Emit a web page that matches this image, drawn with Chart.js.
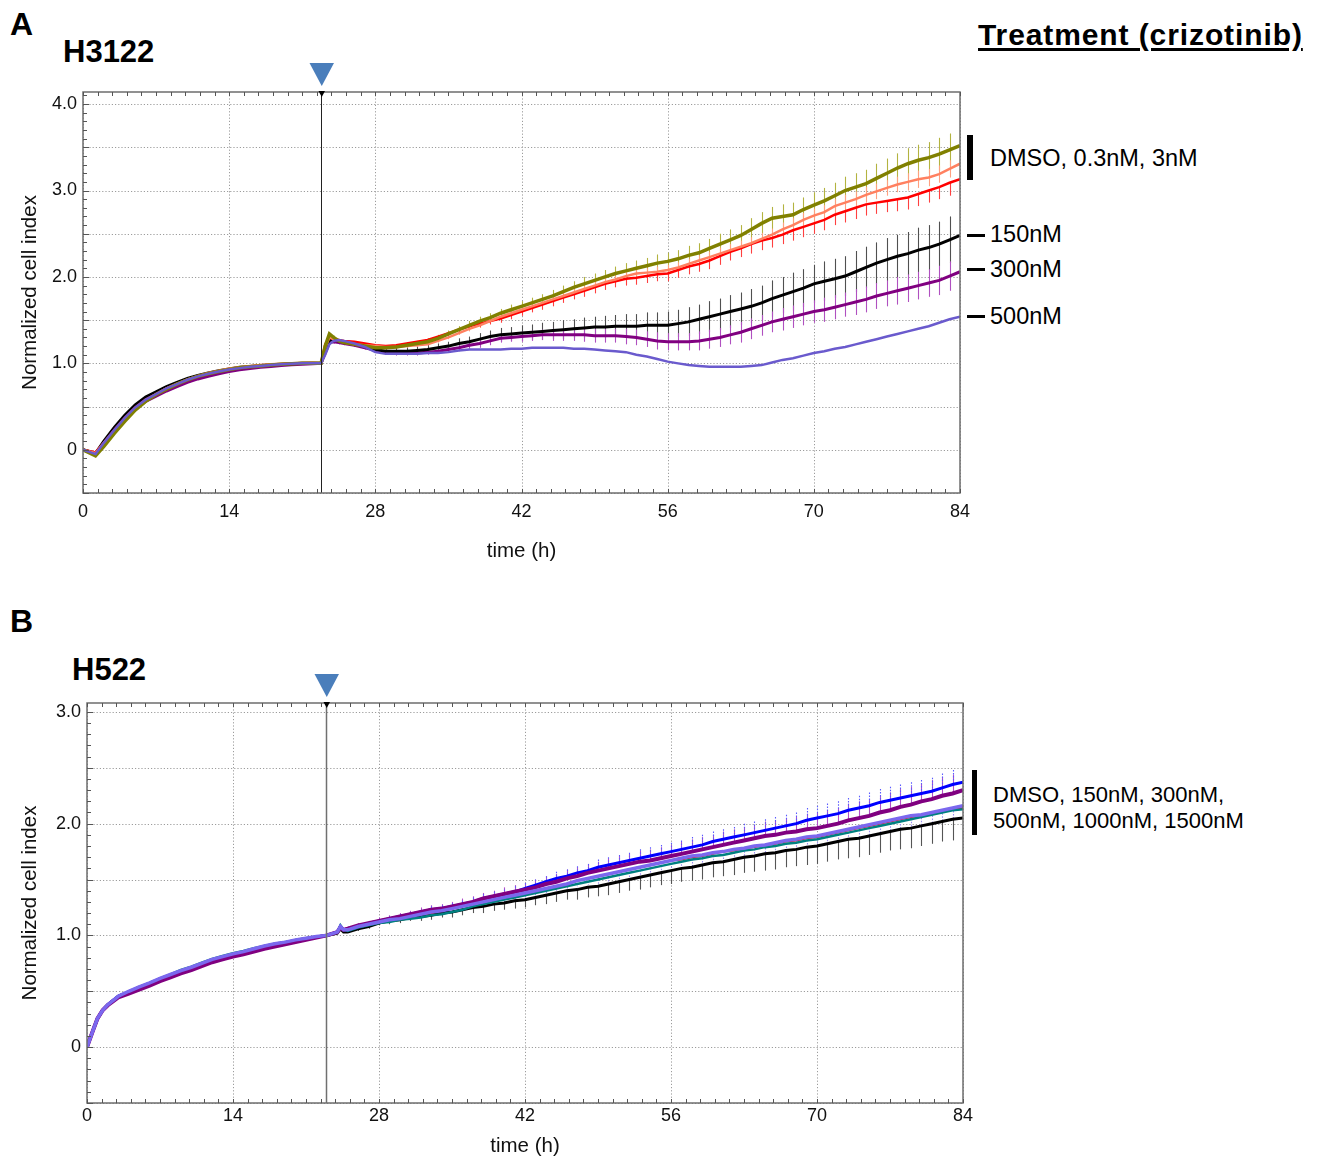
<!DOCTYPE html>
<html><head><meta charset="utf-8">
<script src="https://cdn.jsdelivr.net/npm/chart.js@4/dist/chart.umd.min.js"></script>
<style>
html,body{margin:0;padding:0;background:#fff;width:1320px;height:1158px;overflow:hidden;font-family:Arial,"Liberation Sans",sans-serif;color:#000}
.t{position:absolute;white-space:nowrap;line-height:1}
canvas{position:absolute;left:0}
.bar{position:absolute;background:#000}
</style></head><body>
<div class="t" style="left:10px;top:8px;font-size:32px;font-weight:bold">A</div>
<div class="t" style="left:63px;top:36px;font-size:31px;font-weight:bold">H3122</div>
<div class="t" style="left:978px;top:20px;font-size:30px;font-weight:bold;letter-spacing:0.9px;text-decoration:underline;text-decoration-thickness:2.5px;text-underline-offset:3px">Treatment (crizotinib)</div>
<div class="bar" style="left:967px;top:135px;width:6px;height:45px"></div>
<div class="t" style="left:990px;top:147px;font-size:23.5px">DMSO, 0.3nM, 3nM</div>
<div class="bar" style="left:967px;top:234px;width:18px;height:2.5px"></div>
<div class="t" style="left:990px;top:223px;font-size:23.5px">150nM</div>
<div class="bar" style="left:967px;top:268px;width:18px;height:2.5px"></div>
<div class="t" style="left:990px;top:258px;font-size:23.5px">300nM</div>
<div class="bar" style="left:967px;top:315px;width:18px;height:2.5px"></div>
<div class="t" style="left:990px;top:305px;font-size:23.5px">500nM</div>

<div class="t" style="left:10px;top:605px;font-size:32px;font-weight:bold">B</div>
<div class="t" style="left:72px;top:654px;font-size:31px;font-weight:bold">H522</div>
<div class="bar" style="left:972px;top:770px;width:5px;height:65px"></div>
<div class="t" style="left:993px;top:784px;font-size:22px">DMSO, 150nM, 300nM,</div>
<div class="t" style="left:993px;top:810px;font-size:22px">500nM, 1000nM, 1500nM</div>

<canvas id="cA" width="1000" height="580" style="top:0;width:1000px;height:580px"></canvas>
<canvas id="cB" width="1000" height="560" style="top:600px;width:1000px;height:560px"></canvas>
<div id="dbg" class="t" style="left:1000px;top:1100px;font-size:12px;color:red"></div>
<script>
// ---------------- DATA: panel A (H3122) ----------------
const timesA = [0,1.2,2,3,4,5,6,7,8,9,10,11,12,13,14,15,16,17,18,19,20,21,22,22.8,23.2,23.6,24,24.5,25,26,27,28,29,30,31,32,33,34,35,36,37,38,39,40,41,42,43,44,45,46,47,48,49,50,51,52,53,54,55,56,57,58,59,60,61,62,63,64,65,66,67,68,69,70,71,72,73,74,75,76,77,78,79,80,81,82,83,84];
const treatmentTimeA = 22.8;
const xTicks = [0,14,28,42,56,70,84];
const xTickLabels = ['0','14','28','42','56','70','84'];
const yTicksA = [-0.5,0,0.5,1,1.5,2,2.5,3,3.5,4];
const yTickLabelsA = ['','0','','1.0','','2.0','','3.0','','4.0'];
const yMaxA = 4.14;

const dmsoA = [0,-0.07,0.04,0.19,0.33,0.46,0.56,0.64,0.70,0.76,0.81,0.85,0.88,0.905,0.93,0.95,0.96,0.97,0.98,0.99,0.995,1.0,1.0,1.0,
 1.20,1.34,1.30,1.26,
 1.24,1.22,1.20,1.18,1.18,1.19,1.21,1.23,1.25,1.29,
 1.34,1.39,1.44,1.49,1.53,1.58,1.62,1.66,1.70,1.74,
 1.78,1.83,1.88,1.92,1.96,2.00,2.04,2.07,2.10,2.13,
 2.16,2.18,2.21,2.25,2.28,2.33,2.38,2.43,2.48,2.55,
 2.62,2.68,2.70,2.72,2.78,2.83,2.88,2.94,3.00,3.04,
 3.08,3.14,3.20,3.26,3.31,3.35,3.38,3.42,3.47,3.52];
const nM03A = [0,-0.04,0.08,0.22,0.36,0.48,0.57,0.645,0.71,0.765,0.815,0.855,0.89,0.915,0.94,0.955,0.97,0.98,0.99,0.995,1.0,1.005,1.005,1.0,
 1.18,1.30,1.28,1.26,
 1.24,1.22,1.21,1.20,1.19,1.19,1.20,1.21,1.22,1.26,
 1.30,1.35,1.40,1.44,1.49,1.54,1.58,1.62,1.66,1.70,
 1.74,1.78,1.82,1.86,1.90,1.94,1.97,2.01,2.04,2.05,
 2.06,2.08,2.11,2.15,2.19,2.23,2.27,2.31,2.35,2.39,
 2.44,2.49,2.55,2.60,2.66,2.71,2.75,2.82,2.86,2.90,
 2.95,2.99,3.03,3.07,3.10,3.13,3.15,3.19,3.25,3.31];
const nM3A = [0,-0.03,0.08,0.23,0.37,0.49,0.58,0.645,0.71,0.76,0.81,0.85,0.885,0.91,0.935,0.95,0.965,0.975,0.985,0.99,1.0,1.0,1.005,1.0,
 1.22,1.30,1.28,1.27,
 1.26,1.25,1.23,1.21,1.20,1.21,1.23,1.25,1.27,1.31,
 1.35,1.39,1.43,1.46,1.49,1.52,1.56,1.60,1.64,1.68,
 1.72,1.76,1.80,1.84,1.88,1.92,1.95,1.98,1.99,2.01,
 2.03,2.04,2.08,2.12,2.15,2.19,2.24,2.29,2.33,2.38,
 2.42,2.45,2.49,2.54,2.58,2.62,2.66,2.72,2.76,2.80,
 2.84,2.86,2.88,2.90,2.92,2.96,3.00,3.04,3.09,3.13];
const nM150A = [0,-0.04,0.10,0.26,0.40,0.52,0.61,0.67,0.73,0.78,0.825,0.86,0.89,0.915,0.935,0.955,0.965,0.975,0.985,0.99,0.995,1.0,1.0,1.0,
 1.15,1.27,1.27,1.26,
 1.25,1.23,1.20,1.16,1.14,1.14,1.14,1.15,1.16,1.18,
 1.20,1.23,1.25,1.28,1.31,1.33,1.34,1.35,1.36,1.37,
 1.38,1.39,1.40,1.41,1.42,1.42,1.43,1.43,1.43,1.44,
 1.44,1.44,1.46,1.48,1.51,1.54,1.57,1.60,1.63,1.66,
 1.70,1.75,1.79,1.83,1.87,1.92,1.95,1.98,2.01,2.06,
 2.11,2.16,2.20,2.24,2.27,2.31,2.34,2.38,2.43,2.48];
const nM300A = [0,-0.05,0.07,0.22,0.35,0.47,0.56,0.62,0.68,0.73,0.78,0.82,0.85,0.88,0.905,0.925,0.94,0.955,0.965,0.975,0.985,0.99,0.995,1.0,
 1.12,1.24,1.25,1.24,
 1.23,1.21,1.18,1.15,1.13,1.12,1.12,1.12,1.13,1.14,
 1.16,1.18,1.21,1.23,1.26,1.29,1.30,1.31,1.32,1.33,
 1.33,1.33,1.33,1.33,1.32,1.32,1.32,1.31,1.30,1.28,
 1.26,1.25,1.25,1.25,1.26,1.28,1.30,1.33,1.36,1.40,
 1.44,1.48,1.51,1.54,1.57,1.60,1.62,1.65,1.68,1.71,
 1.74,1.78,1.81,1.84,1.87,1.90,1.93,1.96,2.01,2.06];
const nM500A = [0,-0.05,0.08,0.23,0.37,0.49,0.58,0.645,0.71,0.76,0.81,0.85,0.88,0.905,0.93,0.945,0.96,0.97,0.98,0.99,0.995,1.0,1.0,1.0,
 1.10,1.22,1.26,1.27,
 1.26,1.23,1.19,1.13,1.11,1.11,1.11,1.11,1.12,1.12,
 1.13,1.15,1.16,1.16,1.16,1.16,1.17,1.17,1.18,1.18,
 1.18,1.18,1.17,1.17,1.16,1.15,1.14,1.13,1.10,1.08,
 1.05,1.02,1.00,0.98,0.97,0.96,0.96,0.96,0.96,0.97,
 0.98,1.01,1.04,1.06,1.09,1.12,1.14,1.17,1.19,1.22,
 1.25,1.28,1.31,1.34,1.37,1.40,1.43,1.47,1.51,1.54];

const sdDmsoA = [0.01,0.01,0.01,0.01,0.01,0.01, 0.01,0.01,0.01,0.01,0.01,0.01, 0.01,0.01,0.01,0.01,0.01,0.01, 0.01,0.01,0.01,0.01,0.01,0.01,
 0.02,0.02,0.02,0.02,
 0.02,0.02,0.02,0.03,0.03,0.03,0.03,0.03,0.04,0.04,
 0.04,0.04,0.05,0.05,0.05,0.05,0.06,0.06,0.06,0.06,
 0.07,0.07,0.07,0.08,0.08,0.08,0.08,0.09,0.09,0.09,
 0.10,0.10,0.10,0.11,0.11,0.11,0.12,0.12,0.12,0.13,
 0.13,0.13,0.14,0.14,0.14,0.15,0.15,0.15,0.16,0.16,
 0.16,0.17,0.17,0.17,0.18,0.18,0.18,0.19,0.19,0.19];
const sd03A = [0.01,0.01,0.01,0.01,0.01,0.01, 0.01,0.01,0.01,0.01,0.01,0.01, 0.01,0.01,0.01,0.01,0.01,0.01, 0.01,0.01,0.01,0.01,0.01,0.01,
 0.02,0.02,0.02,0.02,
 0.02,0.02,0.02,0.02,0.02,0.02,0.02,0.02,0.02,0.02,
 0.02,0.02,0.03,0.03,0.03,0.03,0.03,0.03,0.04,0.04,
 0.04,0.04,0.04,0.04,0.05,0.05,0.05,0.05,0.05,0.05,
 0.06,0.06,0.06,0.06,0.06,0.06,0.07,0.07,0.07,0.07,
 0.07,0.07,0.08,0.08,0.08,0.08,0.08,0.08,0.09,0.09,
 0.09,0.09,0.09,0.09,0.10,0.10,0.10,0.10,0.10,0.10];
const sd3A = [0.01,0.01,0.01,0.01,0.01,0.01, 0.01,0.01,0.01,0.01,0.01,0.01, 0.01,0.01,0.01,0.01,0.01,0.01, 0.01,0.01,0.01,0.01,0.01,0.01,
 0.02,0.02,0.02,0.02,
 0.02,0.02,0.02,0.02,0.02,0.02,0.03,0.03,0.03,0.03,
 0.03,0.04,0.04,0.04,0.04,0.05,0.05,0.05,0.05,0.06,
 0.06,0.06,0.06,0.07,0.07,0.07,0.07,0.08,0.08,0.08,
 0.08,0.09,0.09,0.09,0.09,0.10,0.10,0.10,0.10,0.11,
 0.11,0.11,0.11,0.12,0.12,0.12,0.12,0.12,0.13,0.13,
 0.13,0.13,0.13,0.14,0.14,0.14,0.14,0.14,0.15,0.15];
const sd150A = [0.01,0.01,0.01,0.01,0.01,0.01, 0.01,0.01,0.01,0.01,0.01,0.01, 0.01,0.01,0.01,0.01,0.01,0.01, 0.01,0.01,0.01,0.01,0.01,0.01,
 0.02,0.02,0.02,0.02,
 0.02,0.02,0.03,0.03,0.03,0.04,0.04,0.04,0.05,0.05,
 0.05,0.06,0.06,0.07,0.07,0.08,0.08,0.09,0.09,0.10,
 0.10,0.11,0.11,0.12,0.12,0.13,0.13,0.14,0.14,0.15,
 0.15,0.16,0.16,0.17,0.17,0.18,0.18,0.19,0.19,0.20,
 0.20,0.21,0.21,0.22,0.22,0.22,0.23,0.23,0.23,0.24,
 0.24,0.24,0.25,0.25,0.25,0.26,0.26,0.26,0.27,0.27];
const sd300A = [0.01,0.01,0.01,0.01,0.01,0.01, 0.01,0.01,0.01,0.01,0.01,0.01, 0.01,0.01,0.01,0.01,0.01,0.01, 0.01,0.01,0.01,0.01,0.01,0.01,
 0.02,0.02,0.02,0.02,
 0.02,0.02,0.02,0.02,0.03,0.03,0.03,0.03,0.03,0.03,
 0.04,0.04,0.04,0.05,0.05,0.05,0.05,0.06,0.06,0.06,
 0.07,0.07,0.07,0.08,0.08,0.08,0.08,0.09,0.09,0.09,
 0.10,0.10,0.10,0.10,0.11,0.11,0.11,0.11,0.12,0.12,
 0.12,0.12,0.13,0.13,0.13,0.13,0.14,0.14,0.14,0.15,
 0.15,0.15,0.15,0.16,0.16,0.16,0.16,0.17,0.17,0.17];

// ---------------- DATA: panel B (H522) ----------------
const timesB = [0,0.5,1,1.5,2,3,4,5,6,7,8,9,10,11,12,13,14,15,16,17,18,19,20,21,22,23,24,24.3,24.6,25,26,27,28,29,30,31,32,33,34,35,36,37,38,39,40,41,42,43,44,45,46,47,48,49,50,51,52,53,54,55,56,57,58,59,60,61,62,63,64,65,66,67,68,69,70,71,72,73,74,75,76,77,78,79,80,81,82,83,84];
const treatmentTimeB = 22.9;
const yTicksB = [-0.5,0,0.5,1,1.5,2,2.5,3];
const yTickLabelsB = ['','0','','1.0','','2.0','','3.0'];
const yMaxB = 3.08;

const blueB = [0,0.13,0.255,0.33,
 0.38,0.455,0.495,0.535,0.57,0.61,0.645,0.68,0.71,0.745,0.78,0.805,0.83,0.85,0.875,0.90,0.92,0.935,0.955,0.97,0.985,1.0,1.03,
 1.08,1.05,
 1.06,1.08,1.11,1.13,1.15,1.17,1.19,1.21,1.23,1.24,
 1.26,1.28,1.30,1.33,1.35,1.37,1.39,1.42,1.45,1.48,
 1.51,1.53,1.56,1.58,1.61,1.63,1.65,1.67,1.69,1.71,
 1.73,1.75,1.77,1.79,1.81,1.84,1.86,1.88,1.90,1.92,
 1.94,1.96,1.98,2.00,2.03,2.05,2.07,2.09,2.12,2.14,
 2.16,2.19,2.21,2.23,2.25,2.27,2.29,2.32,2.35,2.37];
const purpleB = [0,0.13,0.255,0.33,
 0.375,0.445,0.48,0.515,0.55,0.59,0.625,0.66,0.69,0.725,0.76,0.785,0.81,0.83,0.855,0.88,0.90,0.92,0.94,0.96,0.98,1.0,1.03,
 1.07,1.05,
 1.06,1.09,1.11,1.13,1.15,1.17,1.19,1.21,1.23,1.24,
 1.26,1.28,1.30,1.33,1.35,1.37,1.39,1.41,1.43,1.46,
 1.48,1.51,1.53,1.56,1.58,1.60,1.62,1.64,1.66,1.67,
 1.69,1.71,1.73,1.75,1.77,1.79,1.81,1.83,1.85,1.87,
 1.89,1.90,1.92,1.93,1.95,1.96,1.98,2.00,2.03,2.05,
 2.07,2.10,2.12,2.15,2.17,2.20,2.22,2.25,2.27,2.30];
const lavB = [0,0.13,0.255,0.33,
 0.38,0.455,0.50,0.54,0.575,0.615,0.65,0.685,0.715,0.75,0.785,0.81,0.835,0.855,0.88,0.905,0.925,0.94,0.96,0.975,0.99,1.0,1.03,
 1.08,1.05,
 1.05,1.08,1.10,1.12,1.14,1.15,1.17,1.19,1.21,1.22,
 1.24,1.26,1.28,1.30,1.32,1.34,1.36,1.38,1.40,1.42,
 1.44,1.46,1.49,1.51,1.53,1.55,1.57,1.59,1.61,1.63,
 1.65,1.67,1.69,1.71,1.72,1.74,1.75,1.77,1.78,1.80,
 1.81,1.83,1.85,1.86,1.88,1.89,1.91,1.93,1.95,1.97,
 1.99,2.01,2.03,2.05,2.07,2.08,2.10,2.12,2.14,2.16];
const redB = [0,0.13,0.255,0.33,
 0.38,0.455,0.495,0.535,0.57,0.61,0.645,0.68,0.71,0.745,0.78,0.805,0.83,0.85,0.875,0.90,0.92,0.935,0.955,0.97,0.985,1.0,1.03,
 1.08,1.05,
 1.05,1.08,1.10,1.12,1.14,1.15,1.17,1.19,1.20,1.22,
 1.24,1.26,1.28,1.30,1.32,1.34,1.36,1.38,1.40,1.42,
 1.44,1.46,1.49,1.51,1.53,1.55,1.57,1.59,1.61,1.63,
 1.65,1.67,1.68,1.70,1.71,1.73,1.75,1.76,1.78,1.79,
 1.81,1.82,1.84,1.85,1.87,1.88,1.90,1.92,1.94,1.96,
 1.98,2.00,2.02,2.04,2.06,2.07,2.09,2.11,2.13,2.14];
const tealB = [0,0.13,0.255,0.33,
 0.38,0.455,0.50,0.54,0.575,0.615,0.65,0.69,0.72,0.755,0.79,0.815,0.84,0.86,0.885,0.905,0.925,0.94,0.96,0.975,0.99,1.0,1.03,
 1.09,1.05,
 1.04,1.07,1.09,1.11,1.12,1.14,1.15,1.16,1.18,1.19,
 1.21,1.23,1.26,1.28,1.30,1.32,1.34,1.36,1.38,1.40,
 1.42,1.44,1.46,1.48,1.50,1.52,1.54,1.56,1.58,1.60,
 1.62,1.64,1.66,1.68,1.69,1.71,1.72,1.74,1.76,1.77,
 1.79,1.80,1.82,1.83,1.85,1.86,1.88,1.90,1.92,1.94,
 1.96,1.98,2.00,2.02,2.04,2.06,2.08,2.10,2.12,2.13];
const blackB = [0,0.13,0.255,0.33,
 0.38,0.455,0.495,0.535,0.57,0.61,0.645,0.68,0.71,0.745,0.78,0.805,0.83,0.85,0.875,0.90,0.92,0.935,0.955,0.97,0.985,1.0,1.02,
 1.06,1.03,
 1.03,1.06,1.08,1.11,1.13,1.14,1.16,1.17,1.18,1.20,
 1.21,1.23,1.25,1.26,1.28,1.29,1.31,1.32,1.34,1.36,
 1.38,1.40,1.41,1.43,1.44,1.46,1.48,1.50,1.52,1.54,
 1.56,1.58,1.60,1.61,1.63,1.65,1.66,1.68,1.70,1.71,
 1.73,1.74,1.76,1.77,1.79,1.80,1.82,1.84,1.86,1.87,
 1.89,1.91,1.93,1.95,1.96,1.98,2.00,2.02,2.04,2.05];

const sdPurpleB = [0,0,0,0,0,0,0,0,0,0,0,0,0,0,0,0,0,0,0,0,0,0,0,0,0,0,0,0,0,
 0.02,0.02,0.02,0.03,0.03,0.03,0.03,0.04,0.04,0.04,
 0.04,0.05,0.05,0.05,0.05,0.06,0.06,0.06,0.07,0.07,
 0.07,0.08,0.08,0.08,0.08,0.09,0.09,0.09,0.10,0.10,
 0.10,0.10,0.11,0.11,0.11,0.11,0.12,0.12,0.12,0.12,
 0.13,0.13,0.13,0.13,0.14,0.14,0.14,0.14,0.15,0.15,
 0.15,0.15,0.16,0.16,0.16,0.16,0.17,0.17,0.17,0.17];
const sdBlackB = [0,0,0,0,0,0,0,0,0,0,0,0,0,0,0,0,0,0,0,0,0,0,0,0,0,0,0,0,0,
 0.01,0.02,0.02,0.02,0.03,0.03,0.03,0.04,0.04,0.04,
 0.05,0.05,0.05,0.06,0.06,0.06,0.07,0.07,0.07,0.08,
 0.08,0.08,0.09,0.09,0.09,0.10,0.10,0.10,0.11,0.11,
 0.11,0.12,0.12,0.12,0.13,0.13,0.13,0.14,0.14,0.14,
 0.15,0.15,0.15,0.15,0.16,0.16,0.16,0.16,0.17,0.17,
 0.17,0.17,0.17,0.18,0.18,0.18,0.18,0.18,0.19,0.19];
const sdBlueB = [0,0,0,0,0,0,0,0,0,0,0,0,0,0,0,0,0,0,0,0,0,0,0,0,0,0,0,0,0,
 0.01,0.01,0.01,0.02,0.02,0.02,0.02,0.02,0.03,0.03,
 0.03,0.03,0.04,0.04,0.04,0.04,0.05,0.05,0.05,0.05,
 0.06,0.06,0.06,0.06,0.07,0.07,0.07,0.07,0.08,0.08,
 0.08,0.08,0.08,0.09,0.09,0.09,0.09,0.09,0.10,0.10,
 0.10,0.10,0.10,0.10,0.11,0.11,0.11,0.11,0.11,0.11,
 0.12,0.12,0.12,0.12,0.12,0.12,0.12,0.13,0.13,0.13];
const sdLavB = sdBlueB;

// ---------------- rendering ----------------
const FONT = 'Arial, "Liberation Sans", sans-serif';

function series(label, times, vals, sd, color, width, errColor, errDir, errDash){
  return { label, data: times.map((t,i)=>({x:t, y:vals[i]})), borderColor:color, backgroundColor:color,
    borderWidth:width, pointRadius:0, tension:0, fill:false, sd, errColor, errDir, errDash };
}

function makeDeco(o){
  return {
    id:'deco',
    beforeDatasetsDraw(chart){
      const {ctx, chartArea:a, scales:{x,y}} = chart;
      ctx.save();
      ctx.strokeStyle = '#9c9c9c'; ctx.lineWidth = 1; ctx.setLineDash([1.2,2]);
      o.yTicks.forEach(v=>{ const py = Math.round(y.getPixelForValue(v))+0.5; ctx.beginPath(); ctx.moveTo(a.left,py); ctx.lineTo(a.right,py); ctx.stroke(); });
      o.xTicks.forEach(v=>{ const px = Math.round(x.getPixelForValue(v))+0.5; ctx.beginPath(); ctx.moveTo(px,a.top); ctx.lineTo(px,a.bottom); ctx.stroke(); });
      ctx.restore();
      ctx.save();
      ctx.beginPath(); ctx.rect(a.left,a.top,a.right-a.left,a.bottom-a.top); ctx.clip();
      chart.data.datasets.forEach(ds=>{
        if(!ds.sd) return;
        ctx.strokeStyle = ds.errColor; ctx.lineWidth = 1.1; ctx.setLineDash(ds.errDash || []);
        ds.data.forEach((p,i)=>{
          const s = ds.sd[i]; if(!s || s < 0.015) return;
          const px = Math.round(x.getPixelForValue(p.x))+0.5;
          const hi = ds.errDir==='down' ? p.y : p.y + s;
          const lo = ds.errDir==='up' ? p.y : p.y - s;
          ctx.beginPath(); ctx.moveTo(px, y.getPixelForValue(hi)); ctx.lineTo(px, y.getPixelForValue(lo)); ctx.stroke();
        });
      });
      ctx.restore();
    },
    afterDatasetsDraw(chart){
      const {ctx, chartArea:a, scales:{x,y}} = chart;
      ctx.save();
      const tx = Math.round(x.getPixelForValue(o.treat))+0.5;
      ctx.strokeStyle = o.treatColor; ctx.lineWidth = o.treatWidth;
      ctx.beginPath(); ctx.moveTo(tx,a.top); ctx.lineTo(tx,a.bottom); ctx.stroke();
      ctx.strokeStyle = '#6e6e6e'; ctx.lineWidth = 1.5;
      ctx.strokeRect(a.left, a.top, a.right-a.left, a.bottom-a.top);
      ctx.lineWidth = 1; ctx.strokeStyle = '#555';
      for(let k=0;k<=60;k++){
        const px = Math.round(x.getPixelForValue(k*1.4))+0.5;
        ctx.beginPath(); ctx.moveTo(px,a.bottom); ctx.lineTo(px,a.bottom-4); ctx.moveTo(px,a.top); ctx.lineTo(px,a.top+4); ctx.stroke();
      }
      for(let k=0;;k++){
        const v = -0.5 + k*0.1; if(v > o.yMax) break;
        const py = Math.round(y.getPixelForValue(v))+0.5;
        const len = (k%5===0) ? 6 : 4;
        ctx.beginPath(); ctx.moveTo(a.left,py); ctx.lineTo(a.left+len,py); ctx.stroke();
      }
      ctx.fillStyle = '#000';
      ctx.beginPath(); ctx.moveTo(tx-3,a.top-1); ctx.lineTo(tx+3.5,a.top-1); ctx.lineTo(tx+0.25,a.top+5); ctx.closePath(); ctx.fill();
      ctx.fillStyle = '#4a7ebb';
      ctx.beginPath(); ctx.moveTo(tx-12,a.top-29); ctx.lineTo(tx+12.5,a.top-29); ctx.lineTo(tx+0.25,a.top-6); ctx.closePath(); ctx.fill();
      ctx.restore();
    }
  };
}

function makeChart(id, datasets, o){
  return new Chart(document.getElementById(id), {
    type:'line',
    data:{ datasets },
    options:{
      responsive:false, maintainAspectRatio:false, animation:false,
      layout:{ padding:{ top:o.padTop, right:o.padRight, left:0, bottom:0 } },
      plugins:{ legend:{display:false}, tooltip:{enabled:false} },
      scales:{
        x:{ type:'linear', min:0, max:84,
          afterBuildTicks: s=>{ s.ticks = xTicks.map(v=>({value:v})); },
          afterFit: s=>{ s.height = o.xAxisH; },
          ticks:{ callback:(v,i)=>xTickLabels[i], font:{size:18,family:FONT}, color:'#111', padding:o.xTickPad, maxRotation:0, autoSkip:false },
          grid:{ display:false, drawTicks:false }, border:{ display:false },
          title:{ display:true, text:'time (h)', font:{size:20.5,family:FONT}, color:'#111', padding:{top:0,bottom:o.xTitlePad} }
        },
        y:{ type:'linear', min:-0.5, max:o.yMax,
          afterBuildTicks: s=>{ s.ticks = o.yTicks.map(v=>({value:v})); },
          afterFit: s=>{ s.width = o.yAxisW; },
          ticks:{ callback:(v,i)=>o.yLabels[i], font:{size:18,family:FONT}, color:'#111', padding:6, autoSkip:false },
          grid:{ display:false, drawTicks:false }, border:{ display:false },
          title:{ display:true, text:'Normalized cell index', font:{size:20.5,family:FONT}, color:'#111', padding:{top:18,bottom:0} }
        }
      }
    },
    plugins:[ makeDeco(o) ]
  });
}

makeChart('cA', [
  series('500nM', timesA, nM500A, null, '#6a5acd', 2.5, '#8a7ee0', 'both'),
  series('DMSO', timesA, dmsoA, sdDmsoA, '#808000', 3.5, '#b3b340', 'both'),
  series('0.3nM', timesA, nM03A, sd03A, '#ff8060', 2.5, '#ffa080', 'both'),
  series('3nM', timesA, nM3A, sd3A, '#ff0000', 2.5, '#ff4040', 'down'),
  series('150nM', timesA, nM150A, sd150A, '#000000', 3, '#505050', 'both'),
  series('300nM', timesA, nM300A, sd300A, '#800080', 3, '#b050c0', 'both')
], { padTop:92, padRight:40, xAxisH:87, yAxisW:83, xTickPad:8, xTitlePad:16, yMax:yMaxA,
     yTicks:yTicksA, yLabels:yTickLabelsA, xTicks:xTicks, treat:treatmentTimeA, treatColor:'#222', treatWidth:1 });

makeChart('cB', [
  series('500nM', timesB, lavB, sdLavB, '#7b68ee', 3.5, '#9a8cf0', 'down', [1.5,1.5]),
  series('300nM', timesB, purpleB, sdPurpleB, '#800080', 4, '#b050c8', 'up'),
  series('150nM', timesB, blueB, sdBlueB, '#0000ff', 3, '#5a5aff', 'up', [1.5,1.5]),
  series('1000nM', timesB, tealB, null, '#008080', 2.5, '#40a0a0', 'both'),
  series('1500nM', timesB, redB, null, '#ff0000', 2, '#ff4040', 'both'),
  series('DMSO', timesB, blackB, sdBlackB, '#000000', 3, '#555555', 'down')
], { padTop:103, padRight:37, xAxisH:57, yAxisW:87, xTickPad:2, xTitlePad:1, yMax:yMaxB,
     yTicks:yTicksB, yLabels:yTickLabelsB, xTicks:xTicks, treat:treatmentTimeB, treatColor:'#707070', treatWidth:1.5 });
</script>
</body></html>
